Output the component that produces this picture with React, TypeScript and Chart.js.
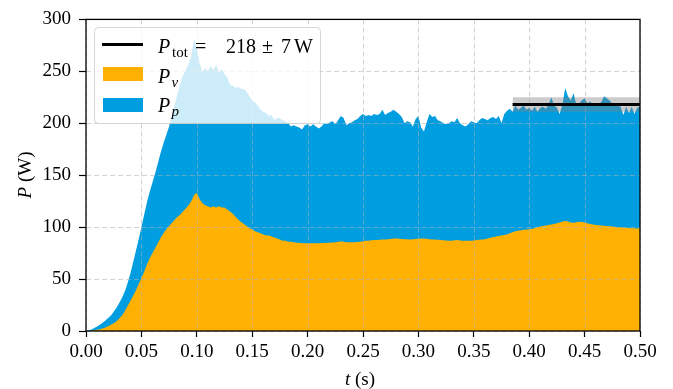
import React, { useEffect, useRef } from "react";
import { Chart, registerables } from "chart.js";

Chart.register(...registerables);

// Time samples (s)
const tSeconds = [
  0, 0.0025, 0.005, 0.0075, 0.01, 0.0125, 0.015, 0.0175, 0.02, 0.0225,
  0.025, 0.0275, 0.03, 0.0325, 0.035, 0.0375, 0.04, 0.0425, 0.045, 0.0475,
  0.05, 0.0525, 0.055, 0.0575, 0.06, 0.0625, 0.065, 0.0675, 0.07, 0.0725,
  0.075, 0.0775, 0.08, 0.0825, 0.085, 0.0875, 0.09, 0.0925, 0.095, 0.0975,
  0.1, 0.1025, 0.105, 0.1075, 0.11, 0.1125, 0.115, 0.1175, 0.12, 0.1225,
  0.125, 0.1275, 0.13, 0.1325, 0.135, 0.1375, 0.14, 0.1425, 0.145, 0.1475,
  0.15, 0.1525, 0.155, 0.1575, 0.16, 0.1625, 0.165, 0.1675, 0.17, 0.1725,
  0.175, 0.1775, 0.18, 0.1825, 0.185, 0.1875, 0.19, 0.1925, 0.195, 0.1975,
  0.2, 0.2025, 0.205, 0.2075, 0.21, 0.2125, 0.215, 0.2175, 0.22, 0.2225,
  0.225, 0.2275, 0.23, 0.2325, 0.235, 0.2375, 0.24, 0.2425, 0.245, 0.2475,
  0.25, 0.2525, 0.255, 0.2575, 0.26, 0.2625, 0.265, 0.2675, 0.27, 0.2725,
  0.275, 0.2775, 0.28, 0.2825, 0.285, 0.2875, 0.29, 0.2925, 0.295, 0.2975,
  0.3, 0.3025, 0.305, 0.3075, 0.31, 0.3125, 0.315, 0.3175, 0.32, 0.3225,
  0.325, 0.3275, 0.33, 0.3325, 0.335, 0.3375, 0.34, 0.3425, 0.345, 0.3475,
  0.35, 0.3525, 0.355, 0.3575, 0.36, 0.3625, 0.365, 0.3675, 0.37, 0.3725,
  0.375, 0.3775, 0.38, 0.3825, 0.385, 0.3875, 0.39, 0.3925, 0.395, 0.3975,
  0.4, 0.4025, 0.405, 0.4075, 0.41, 0.4125, 0.415, 0.4175, 0.42, 0.4225,
  0.425, 0.4275, 0.43, 0.4325, 0.435, 0.4375, 0.44, 0.4425, 0.445, 0.4475,
  0.45, 0.4525, 0.455, 0.4575, 0.46, 0.4625, 0.465, 0.4675, 0.47, 0.4725,
  0.475, 0.4775, 0.48, 0.4825, 0.485, 0.4875, 0.49, 0.4925, 0.495, 0.4975,
  0.5,
];

// Viscous power P_nu (W), lower band of the stack
const pNu = [
  0, 0, 0.3, 0.7, 1.2, 1.8, 2.5, 3.3, 4.5, 6,
  7.5, 9.5, 12, 15, 19, 24, 29, 34, 39, 45,
  51, 57, 64, 70, 75, 80, 85, 90, 94, 98,
  101, 104, 107, 110, 112, 115, 118, 121, 125, 131,
  133, 127, 123, 121, 120, 119, 120, 119, 120, 119,
  119, 117, 115, 113, 110, 107, 105, 103, 101, 99,
  98, 96, 95, 94, 93, 92, 92, 91, 90, 89,
  88, 87, 87, 86, 86, 85.5, 85, 85, 84.5, 84.5,
  84.5, 84.5, 84.5, 84.5, 84.5, 84.7, 84.8, 85, 85, 85.3,
  85.5, 85.8, 86.5, 86, 85.5, 85.5, 85.5, 85.5, 85.8, 86,
  86.5, 87, 87, 87.3, 87.5, 87.5, 87.8, 88, 88, 88.3,
  88.5, 89, 89, 88.7, 88.5, 88.3, 88.3, 88.2, 88.3, 88.5,
  88.7, 89, 89, 88.7, 88.3, 88, 88, 87.8, 87.5, 87.3,
  87.2, 87, 87, 87.3, 87.5, 87.2, 87, 86.8, 86.8, 87,
  87.2, 87.5, 87.8, 88, 88.3, 89, 89.8, 90.5, 91, 91.5,
  92, 92.5, 93, 94, 95, 96, 96.5, 97, 97.5, 97.8,
  98, 98.5, 99, 99.8, 100.5, 101, 101.5, 102, 102.5, 103,
  103.8, 104.5, 105.5, 106, 105.5, 104.5, 104.3, 104.8, 105.3, 105,
  104.5, 103.8, 103, 102.5, 102, 101.8, 101.5, 101.3, 101, 100.8,
  100.5, 100.3, 100, 99.8, 99.5, 99.3, 99.2, 99, 99, 98.8,
  99,
];

// Total power P_nu + P_p (W), top of the stack
const pTotal = [
  0, 0.5, 1.5, 2.8, 4.3, 6, 8, 10, 12.5, 15,
  18.5, 22.5, 27, 32, 38, 46, 55, 66, 77, 88,
  100, 112, 124, 134, 143, 152, 162, 172, 181, 189,
  197, 208, 218, 228, 238, 246, 251, 257, 265, 281,
  272, 258, 249, 253, 250, 255, 251, 256, 249, 252,
  247, 244, 237, 236, 234, 235, 233, 233, 230, 226,
  222, 220, 217, 213, 211, 210, 207, 208, 203, 205,
  205, 203, 202, 200, 197, 198, 197, 196, 194, 198,
  199, 197, 199, 197, 195, 197, 200, 199, 201, 202,
  199, 203, 207, 205, 198, 200, 201, 203, 204, 207,
  209, 207, 208, 207, 209, 208, 209, 213, 208, 210,
  211, 213, 211, 209, 206, 200, 202, 201, 197, 204,
  207, 196, 192, 201, 209, 206, 207, 203, 202, 200,
  199, 200, 202, 201, 205, 200, 198, 197, 199, 202,
  201, 200, 203, 205, 204, 203, 205, 206, 204, 207,
  200, 209, 212, 214, 211, 217, 213, 215, 217, 213,
  215, 212, 216, 211, 215, 216, 214, 218, 225, 217,
  215, 209, 218, 234, 226, 222, 229, 218, 219, 222,
  224, 219, 221, 218, 218, 219, 220, 226, 224, 222,
  219, 218, 217, 216, 208, 216, 210, 216, 209, 215,
  216,
];

// Time-averaged total power over the late window
const avgWindow = [0.385, 0.5];
const pTotMean = 218;
const pTotErr = 7;

const xTicks = [0, 0.05, 0.1, 0.15, 0.2, 0.25, 0.3, 0.35, 0.4, 0.45, 0.5];
const yTicks = [0, 50, 100, 150, 200, 250, 300];

const ORANGE = "#ffb000";
const BLUE = "#009ee0";
const SERIF = "'Liberation Serif', 'DejaVu Serif', serif";

function font(size: number, italic = false) {
  return `${italic ? "italic " : ""}${size}px ${SERIF}`;
}

// Dashed grid drawn over the filled areas
const gridOverlay = {
  id: "gridOverlay",
  afterDatasetDraw(chart: any, args: any) {
    if (args.index !== 3) return;
    const { ctx, chartArea } = chart;
    const xs = chart.scales.x;
    const ys = chart.scales.y;
    ctx.save();
    ctx.strokeStyle = "rgba(176,176,176,0.55)";
    ctx.lineWidth = 1;
    ctx.setLineDash([5, 3]);
    xTicks.forEach((v) => {
      const px = Math.round(xs.getPixelForValue(v)) + 0.5;
      ctx.beginPath();
      ctx.moveTo(px, chartArea.top);
      ctx.lineTo(px, chartArea.bottom);
      ctx.stroke();
    });
    yTicks.forEach((v) => {
      const py = Math.round(ys.getPixelForValue(v)) + 0.5;
      ctx.beginPath();
      ctx.moveTo(chartArea.left, py);
      ctx.lineTo(chartArea.right, py);
      ctx.stroke();
    });
    ctx.restore();
  },
};

// Frame, axis titles and the legend box
const decorations = {
  id: "decorations",
  afterDatasetsDraw(chart: any) {
    const { ctx, chartArea } = chart;
    ctx.save();

    // spines
    ctx.strokeStyle = "#000";
    ctx.lineWidth = 1.3;
    ctx.setLineDash([]);
    ctx.strokeRect(chartArea.left, chartArea.top, chartArea.right - chartArea.left, chartArea.bottom - chartArea.top);

    // legend frame
    const lx = 94.5, ly = 27.5, lw = 226, lh = 96;
    ctx.beginPath();
    ctx.roundRect(lx, ly, lw, lh, 4);
    ctx.fillStyle = "rgba(255,255,255,0.8)";
    ctx.fill();
    ctx.strokeStyle = "rgba(204,204,204,0.8)";
    ctx.lineWidth = 1;
    ctx.stroke();

    // legend handles
    ctx.strokeStyle = "#000";
    ctx.lineWidth = 3;
    ctx.beginPath();
    ctx.moveTo(102, 44.5);
    ctx.lineTo(143, 44.5);
    ctx.stroke();
    ctx.fillStyle = ORANGE;
    ctx.fillRect(103, 67, 40, 14);
    ctx.fillStyle = BLUE;
    ctx.fillRect(103, 98, 40, 14);

    // legend labels
    ctx.fillStyle = "#000";
    ctx.textBaseline = "alphabetic";
    ctx.textAlign = "left";
    const tx = 158;
    ctx.font = font(20, true);
    ctx.fillText("P", tx, 53);
    ctx.font = font(15);
    ctx.fillText("tot", tx + 14, 57);
    ctx.font = font(20);
    ctx.fillText("=", 195, 53);
    ctx.fillText("218", 226, 53);
    ctx.fillText("\u00b1", 262, 53);
    ctx.fillText("7", 281, 53);
    ctx.fillText("W", 294, 53);

    ctx.font = font(20, true);
    ctx.fillText("P", tx, 82.5);
    ctx.font = font(15, true);
    ctx.fillText("\u03bd", tx + 13.5, 86.5);

    ctx.font = font(20, true);
    ctx.fillText("P", tx, 112);
    ctx.font = font(15, true);
    ctx.fillText("p", tx + 13.5, 116);

    // axis titles with an italic symbol
    const drawRun = (parts: [string, boolean][], cx: number, cy: number) => {
      let w = 0;
      parts.forEach(([s, it]) => {
        ctx.font = font(19, it);
        w += ctx.measureText(s).width;
      });
      let x = cx - w / 2;
      parts.forEach(([s, it]) => {
        ctx.font = font(19, it);
        ctx.fillText(s, x, cy);
        x += ctx.measureText(s).width;
      });
    };
    drawRun([["t", true], [" (s)", false]], 360, 385);

    ctx.translate(31, 175);
    ctx.rotate(-Math.PI / 2);
    drawRun([["P", true], [" (W)", false]], 0, 0);

    ctx.restore();
  },
};

export default function App() {
  const canvasRef = useRef<HTMLCanvasElement | null>(null);

  useEffect(() => {
    const canvas = canvasRef.current;
    if (!canvas) return;

    const totalPts = tSeconds.map((t, i) => ({ x: t, y: pTotal[i] }));
    const nuPts = tSeconds.map((t, i) => ({ x: t, y: pNu[i] }));
    const meanPts = avgWindow.map((t) => ({ x: t, y: pTotMean }));
    const upperPts = avgWindow.map((t) => ({ x: t, y: pTotMean + pTotErr }));
    const lowerPts = avgWindow.map((t) => ({ x: t, y: pTotMean - pTotErr }));

    const tickFont = { family: SERIF, size: 19 };

    const chart = new Chart(canvas, {
      type: "line",
      data: {
        datasets: [
          {
            label: "P_tot",
            data: meanPts,
            borderColor: "#000",
            borderWidth: 3,
            pointRadius: 0,
            fill: false,
            order: 0,
          },
          {
            label: "upper",
            data: upperPts,
            borderWidth: 0,
            pointRadius: 0,
            backgroundColor: "rgba(128,128,128,0.4)",
            fill: 2,
            order: 1,
          },
          {
            label: "lower",
            data: lowerPts,
            borderWidth: 0,
            pointRadius: 0,
            fill: false,
            order: 1,
          },
          {
            label: "P_nu",
            data: nuPts,
            borderWidth: 0,
            borderColor: ORANGE,
            backgroundColor: ORANGE,
            pointRadius: 0,
            fill: "origin",
            order: 2,
          },
          {
            label: "P_p",
            data: totalPts,
            borderWidth: 0,
            borderColor: BLUE,
            backgroundColor: BLUE,
            pointRadius: 0,
            fill: "origin",
            order: 3,
          },
        ],
      },
      options: {
        animation: false,
        responsive: false,
        devicePixelRatio: 1,
        events: [],
        layout: { padding: { top: 17, right: 33, left: 0, bottom: 0 } },
        elements: { line: { tension: 0 } },
        plugins: {
          legend: { display: false },
          tooltip: { enabled: false },
          title: { display: false },
        },
        scales: {
          x: {
            type: "linear",
            min: 0,
            max: 0.5,
            afterBuildTicks: (s: any) => {
              s.ticks = xTicks.map((v) => ({ value: v }));
            },
            afterFit: (s: any) => {
              s.height = 58;
            },
            ticks: {
              autoSkip: false,
              maxRotation: 0,
              minRotation: 0,
              color: "#000",
              font: tickFont,
              padding: 4,
              callback: (v: any) => Number(v).toFixed(2),
            },
            grid: {
              drawOnChartArea: false,
              drawTicks: true,
              tickLength: 6,
              tickColor: "#000",
              tickWidth: 1.2,
            },
            border: { display: false },
          },
          y: {
            type: "linear",
            min: 0,
            max: 300,
            afterBuildTicks: (s: any) => {
              s.ticks = yTicks.map((v) => ({ value: v }));
            },
            afterFit: (s: any) => {
              s.width = 86;
            },
            ticks: {
              autoSkip: false,
              color: "#000",
              font: tickFont,
              padding: 8,
              callback: (v: any) => String(v),
            },
            grid: {
              drawOnChartArea: false,
              drawTicks: true,
              tickLength: 7,
              tickColor: "#000",
              tickWidth: 1.2,
            },
            border: { display: false },
          },
        },
      },
      plugins: [gridOverlay, decorations],
    } as any);

    return () => chart.destroy();
  }, []);

  return (
    <div style={{ position: "fixed", left: 0, top: 0, width: 673, height: 389, background: "#fff" }}>
      <canvas ref={canvasRef} width={673} height={389} style={{ display: "block" }} />
    </div>
  );
}
